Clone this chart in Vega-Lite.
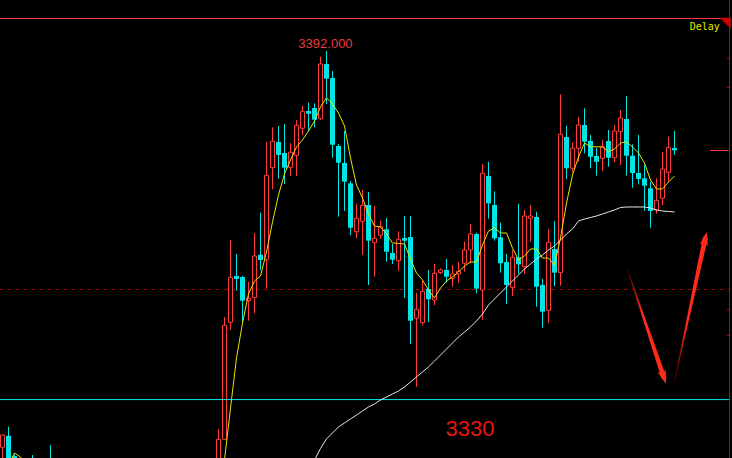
{
  "$schema": "https://vega.github.io/schema/vega-lite/v6.json",
  "width": 732,
  "height": 458,
  "autosize": "none",
  "padding": 0,
  "background": "#000000",
  "config": {"view": {"stroke": null}, "scale": {"continuousPadding": 0}},
  "datasets": {
    "candles": [
      {"k":0,"o":3321.40,"h":3323.70,"l":3317.3,"c":3323.59,"d":"up"},
      {"k":1,"o":3323.47,"h":3325.07,"l":3315.6,"c":3317.35,"d":"down"},
      {"k":2,"o":3319.85,"h":3320.1,"l":3317.0,"c":3319.3,"d":"down"},
      {"k":5,"o":3318.5,"h":3320.03,"l":3314,"c":3316,"d":"down"},
      {"k":8,"o":3318.5,"h":3321.81,"l":3314,"c":3316,"d":"down"},
      {"k":36,"o":3316.0,"h":3324.66,"l":3314.0,"c":3322.82,"d":"up"},
      {"k":37,"o":3322.82,"h":3344.56,"l":3322.7,"c":3343.13,"d":"up"},
      {"k":38,"o":3343.67,"h":3358.33,"l":3342.30,"c":3351.69,"d":"up"},
      {"k":39,"o":3351.92,"h":3355.84,"l":3349.30,"c":3351.38,"d":"down"},
      {"k":40,"o":3351.74,"h":3351.92,"l":3343.72,"c":3347.52,"d":"down"},
      {"k":41,"o":3347.52,"h":3350.85,"l":3343.95,"c":3347.95,"d":"up"},
      {"k":42,"o":3348.05,"h":3359.53,"l":3345.27,"c":3355.48,"d":"up"},
      {"k":43,"o":3355.71,"h":3363.20,"l":3352.99,"c":3354.77,"d":"down"},
      {"k":44,"o":3354.82,"h":3375.79,"l":3349.66,"c":3369.86,"d":"up"},
      {"k":45,"o":3371.21,"h":3378.41,"l":3367.36,"c":3375.92,"d":"up"},
      {"k":46,"o":3375.79,"h":3378.64,"l":3369.25,"c":3373.48,"d":"down"},
      {"k":47,"o":3373.83,"h":3379.00,"l":3368.31,"c":3371.21,"d":"down"},
      {"k":48,"o":3371.28,"h":3375.56,"l":3369.73,"c":3373.96,"d":"up"},
      {"k":49,"o":3373.42,"h":3379.71,"l":3369.73,"c":3378.77,"d":"up"},
      {"k":50,"o":3378.23,"h":3382.21,"l":3376.99,"c":3381.26,"d":"up"},
      {"k":51,"o":3381.31,"h":3382.79,"l":3377.80,"c":3380.83,"d":"down"},
      {"k":52,"o":3381.85,"h":3382.69,"l":3378.41,"c":3379.76,"d":"down"},
      {"k":53,"o":3379.94,"h":3390.99,"l":3379.71,"c":3389.69,"d":"up"},
      {"k":54,"o":3389.69,"h":3392.00,"l":3382.56,"c":3387.07,"d":"down"},
      {"k":55,"o":3387.19,"h":3388.44,"l":3372.99,"c":3375.31,"d":"down"},
      {"k":56,"o":3375.08,"h":3375.43,"l":3362.48,"c":3372.10,"d":"down"},
      {"k":57,"o":3372.05,"h":3377.75,"l":3363.50,"c":3368.72,"d":"down"},
      {"k":58,"o":3368.43,"h":3368.84,"l":3359.17,"c":3360.52,"d":"down"},
      {"k":59,"o":3359.81,"h":3364.75,"l":3358.63,"c":3362.20,"d":"up"},
      {"k":60,"o":3361.66,"h":3367.24,"l":3355.71,"c":3364.51,"d":"up"},
      {"k":61,"o":3364.57,"h":3366.88,"l":3350.31,"c":3358.21,"d":"down"},
      {"k":62,"o":3357.85,"h":3364.39,"l":3351.79,"c":3358.63,"d":"up"},
      {"k":63,"o":3359.17,"h":3361.77,"l":3358.56,"c":3360.70,"d":"up"},
      {"k":64,"o":3360.24,"h":3362.25,"l":3354.47,"c":3356.25,"d":"down"},
      {"k":65,"o":3356.02,"h":3357.62,"l":3354.06,"c":3354.82,"d":"down"},
      {"k":66,"o":3354.64,"h":3359.88,"l":3352.86,"c":3358.46,"d":"up"},
      {"k":67,"o":3358.69,"h":3362.61,"l":3348.00,"c":3358.21,"d":"down"},
      {"k":68,"o":3358.87,"h":3362.61,"l":3339.80,"c":3343.95,"d":"down"},
      {"k":69,"o":3344.38,"h":3348.94,"l":3332.20,"c":3345.99,"d":"up"},
      {"k":70,"o":3343.60,"h":3351.08,"l":3343.13,"c":3349.19,"d":"up"},
      {"k":71,"o":3349.60,"h":3352.99,"l":3343.72,"c":3347.77,"d":"down"},
      {"k":72,"o":3347.64,"h":3354.06,"l":3346.70,"c":3352.40,"d":"up"},
      {"k":73,"o":3352.51,"h":3353.29,"l":3352.27,"c":3352.99,"d":"up"},
      {"k":74,"o":3352.99,"h":3354.95,"l":3350.72,"c":3351.79,"d":"down"},
      {"k":75,"o":3351.51,"h":3353.88,"l":3350.01,"c":3352.27,"d":"up"},
      {"k":76,"o":3352.27,"h":3354.41,"l":3350.72,"c":3352.75,"d":"up"},
      {"k":77,"o":3354.18,"h":3358.03,"l":3352.68,"c":3356.55,"d":"up"},
      {"k":78,"o":3356.55,"h":3361.18,"l":3354.18,"c":3359.40,"d":"up"},
      {"k":79,"o":3359.40,"h":3359.63,"l":3348.84,"c":3349.66,"d":"down"},
      {"k":80,"o":3349.42,"h":3371.87,"l":3344.08,"c":3370.21,"d":"up"},
      {"k":81,"o":3369.73,"h":3372.28,"l":3362.13,"c":3364.87,"d":"down"},
      {"k":82,"o":3364.57,"h":3367.01,"l":3358.21,"c":3358.63,"d":"down"},
      {"k":83,"o":3358.81,"h":3361.41,"l":3352.51,"c":3354.18,"d":"down"},
      {"k":84,"o":3354.41,"h":3355.84,"l":3346.93,"c":3350.31,"d":"down"},
      {"k":85,"o":3349.90,"h":3356.55,"l":3348.35,"c":3355.25,"d":"up"},
      {"k":86,"o":3355.25,"h":3364.75,"l":3352.27,"c":3354.00,"d":"down"},
      {"k":87,"o":3353.57,"h":3363.62,"l":3352.27,"c":3362.61,"d":"up"},
      {"k":88,"o":3362.20,"h":3364.57,"l":3358.03,"c":3362.61,"d":"up"},
      {"k":89,"o":3362.43,"h":3363.37,"l":3346.45,"c":3350.01,"d":"down"},
      {"k":90,"o":3350.31,"h":3351.38,"l":3342.71,"c":3345.56,"d":"down"},
      {"k":91,"o":3345.81,"h":3360.29,"l":3343.54,"c":3357.92,"d":"up"},
      {"k":92,"o":3356.73,"h":3361.72,"l":3350.08,"c":3352.51,"d":"down"},
      {"k":93,"o":3352.51,"h":3384.29,"l":3350.19,"c":3377.16,"d":"up"},
      {"k":94,"o":3376.68,"h":3378.70,"l":3369.20,"c":3371.11,"d":"down"},
      {"k":95,"o":3371.11,"h":3375.74,"l":3370.39,"c":3374.67,"d":"up"},
      {"k":96,"o":3374.67,"h":3380.25,"l":3372.28,"c":3378.82,"d":"up"},
      {"k":97,"o":3378.82,"h":3381.80,"l":3373.78,"c":3375.84,"d":"down"},
      {"k":98,"o":3375.97,"h":3377.04,"l":3371.11,"c":3373.17,"d":"down"},
      {"k":99,"o":3373.30,"h":3374.78,"l":3369.79,"c":3372.28,"d":"down"},
      {"k":100,"o":3372.89,"h":3376.15,"l":3370.62,"c":3374.95,"d":"up"},
      {"k":101,"o":3375.97,"h":3377.93,"l":3371.39,"c":3372.99,"d":"down"},
      {"k":102,"o":3372.99,"h":3378.82,"l":3372.17,"c":3377.75,"d":"up"},
      {"k":103,"o":3377.63,"h":3381.49,"l":3371.69,"c":3380.07,"d":"up"},
      {"k":104,"o":3379.89,"h":3383.99,"l":3369.79,"c":3373.35,"d":"down"},
      {"k":105,"o":3373.35,"h":3375.38,"l":3367.65,"c":3370.27,"d":"down"},
      {"k":106,"o":3370.27,"h":3377.04,"l":3368.25,"c":3369.20,"d":"down"},
      {"k":107,"o":3369.32,"h":3371.69,"l":3363.50,"c":3368.01,"d":"down"},
      {"k":108,"o":3367.54,"h":3368.72,"l":3360.52,"c":3363.50,"d":"down"},
      {"k":109,"o":3363.68,"h":3369.32,"l":3363.02,"c":3365.40,"d":"up"},
      {"k":110,"o":3365.76,"h":3374.06,"l":3364.57,"c":3370.98,"d":"up"},
      {"k":111,"o":3370.39,"h":3376.74,"l":3368.72,"c":3374.78,"d":"up"},
      {"k":112,"o":3374.72,"h":3377.75,"l":3373.48,"c":3374.31,"d":"down"}
    ],
    "fast": [
      {"k":1,"v":3318.25},{"k":2,"v":3320.38},{"k":3,"v":3319.67},{"k":4,"v":3318.07},
      {"k":36,"v":3312.01},{"k":37,"v":3319.14},{"k":38,"v":3328.40},{"k":39,"v":3337.31},
      {"k":40,"v":3343.54},{"k":41,"v":3348.71},{"k":42,"v":3351.03},{"k":43,"v":3351.92},
      {"k":44,"v":3356.19},{"k":45,"v":3361.54},{"k":46,"v":3366.35},{"k":47,"v":3370.09},
      {"k":48,"v":3372.58},{"k":49,"v":3374.90},{"k":50,"v":3376.15},{"k":51,"v":3377.75},
      {"k":52,"v":3379.53},{"k":53,"v":3382.03},{"k":54,"v":3383.68},{"k":55,"v":3382.56},
      {"k":56,"v":3380.96},{"k":57,"v":3378.64},{"k":58,"v":3372.94},{"k":59,"v":3368.13},
      {"k":60,"v":3365.81},{"k":61,"v":3362.96},{"k":62,"v":3360.83},{"k":63,"v":3360.65},
      {"k":64,"v":3359.40},{"k":65,"v":3357.80},{"k":66,"v":3357.71},{"k":67,"v":3357.62},
      {"k":68,"v":3354.95},{"k":69,"v":3352.45},{"k":70,"v":3351.21},{"k":71,"v":3349.42},
      {"k":72,"v":3348.00},{"k":73,"v":3349.78},{"k":74,"v":3351.03},{"k":75,"v":3351.74},
      {"k":76,"v":3352.63},{"k":77,"v":3353.70},{"k":78,"v":3354.41},{"k":79,"v":3354.41},
      {"k":80,"v":3357.44},{"k":81,"v":3359.94},{"k":82,"v":3360.47},{"k":83,"v":3359.58},
      {"k":84,"v":3359.58},{"k":85,"v":3356.91},{"k":86,"v":3354.77},{"k":87,"v":3355.48},
      {"k":88,"v":3356.73},{"k":89,"v":3356.73},{"k":90,"v":3355.12},{"k":91,"v":3355.12},
      {"k":92,"v":3353.88},{"k":93,"v":3358.69},{"k":94,"v":3364.92},{"k":95,"v":3369.91},
      {"k":96,"v":3373.12},{"k":97,"v":3375.61},{"k":98,"v":3374.95},{"k":99,"v":3374.95},
      {"k":100,"v":3374.90},{"k":101,"v":3374.06},{"k":102,"v":3374.54},{"k":103,"v":3375.61},
      {"k":104,"v":3375.84},{"k":105,"v":3374.90},{"k":106,"v":3373.83},{"k":107,"v":3372.05},
      {"k":108,"v":3369.02},{"k":109,"v":3367.42},{"k":110,"v":3367.42},{"k":111,"v":3368.66},
      {"k":112,"v":3369.73}
    ],
    "slow": [
      {"k":52,"v":3319.14},{"k":53,"v":3321.19},{"k":54,"v":3322.88},{"k":55,"v":3323.95},
      {"k":56,"v":3325.02},{"k":57,"v":3325.73},{"k":58,"v":3326.44},{"k":59,"v":3327.15},
      {"k":60,"v":3327.87},{"k":61,"v":3328.58},{"k":62,"v":3329.11},{"k":63,"v":3329.83},
      {"k":64,"v":3330.36},{"k":65,"v":3330.89},{"k":66,"v":3331.43},{"k":67,"v":3332.14},
      {"k":68,"v":3333.03},{"k":69,"v":3333.92},{"k":70,"v":3334.81},{"k":71,"v":3335.71},
      {"k":72,"v":3336.77},{"k":73,"v":3337.84},{"k":74,"v":3338.91},{"k":75,"v":3339.98},
      {"k":76,"v":3341.05},{"k":77,"v":3341.94},{"k":78,"v":3342.83},{"k":79,"v":3343.90},
      {"k":80,"v":3345.15},{"k":81,"v":3346.75},{"k":82,"v":3347.82},{"k":83,"v":3348.89},
      {"k":84,"v":3349.96},{"k":85,"v":3351.03},{"k":86,"v":3352.10},{"k":87,"v":3353.16},
      {"k":88,"v":3354.06},{"k":89,"v":3354.95},{"k":90,"v":3355.66},{"k":91,"v":3356.55},
      {"k":92,"v":3357.26},{"k":93,"v":3358.33},{"k":94,"v":3359.40},{"k":95,"v":3360.29},
      {"k":96,"v":3361.72},{"k":97,"v":3362.07},{"k":98,"v":3362.34},{"k":99,"v":3362.61},
      {"k":100,"v":3362.96},{"k":101,"v":3363.32},{"k":102,"v":3363.68},{"k":103,"v":3364.12},
      {"k":104,"v":3364.21},{"k":105,"v":3364.21},{"k":106,"v":3364.21},{"k":107,"v":3364.21},
      {"k":108,"v":3364.03},{"k":109,"v":3363.68},{"k":110,"v":3363.50},{"k":111,"v":3363.41},
      {"k":112,"v":3363.32}
    ],
    "levels": [
      {"name":"top","k":-0.5,"k2":121.167,"v":3397.79},
      {"name":"support","k":-0.5,"k2":121.167,"v":3329.9},
      {"name":"mid","k":-0.5,"k2":121.167,"v":3349.51},
      {"name":"last","k":117.92,"k2":121.0,"v":3374.28}
    ],
    "ticks": [
      {"k":120.75,"k2":121.167,"v":3390.7},
      {"k":120.75,"k2":121.167,"v":3385.5},
      {"k":120.75,"k2":121.167,"v":3345.9},
      {"k":120.75,"k2":121.167,"v":3341.3}
    ],
    "border": [{"k":121.167,"v":3319.49,"v2":3401.09}],
    "corner": [{"k":120.46,"v":3396.95}],
    "labels": [
      {"name":"high","k":53.83,"v":3393.25,"text":"3392.000"},
      {"name":"target","k":77.9,"v":3324.66,"text":"3330"},
      {"name":"status","k":117.03,"v":3396.24,"text":"Delay"}
    ],
    "arrow1": [{"k":104.08,"v":3353.34,"t":0},{"k":110.22,"v":3333.85,"t":1}],
    "arrow2": [{"k":111.97,"v":3332.98,"t":0},{"k":117.12,"v":3358.60,"t":1}],
    "heads": [{"name":"down","k":110.22,"v":3333.85},{"name":"up","k":117.12,"v":3358.60}]
  },
  "encoding": {
    "x": {"field":"k","type":"quantitative","scale":{"domain":[-0.4167,121.583],"nice":false,"zero":false,"padding":0},"axis":null}
  },
  "layer": [
    {
      "data": {"name":"levels"},
      "transform": [{"filter":"datum.name === 'mid'"}],
      "mark": {"type":"rule","color":"#a00000","strokeWidth":1,"strokeDash":[4,4],"clip":true},
      "encoding": {
        "x2": {"field":"k2"},
        "y": {"field":"v","type":"quantitative","scale":{"domain":[3319.49,3401.09],"nice":false,"zero":false,"padding":0},"axis":null}
      }
    },
    {
      "data": {"name":"candles"},
      "mark": {"type":"rule","strokeWidth":1,"clip":true},
      "encoding": {
        "y": {"field":"l","type":"quantitative","scale":{"domain":[3319.49,3401.09],"nice":false,"zero":false,"padding":0},"axis":null},
        "y2": {"field":"h"},
        "color": {"field":"d","type":"nominal","scale":{"domain":["up","down"],"range":["#ff3b3b","#00e6e6"]},"legend":null}
      }
    },
    {
      "data": {"name":"candles"},
      "transform": [{"filter":"datum.d === 'up'"}],
      "mark": {"type":"bar","width":4,"fill":"#000000","stroke":"#ff3b3b","strokeWidth":1,"clip":true},
      "encoding": {
        "y": {"field":"o","type":"quantitative","scale":{"domain":[3319.49,3401.09],"nice":false,"zero":false,"padding":0},"axis":null},
        "y2": {"field":"c"}
      }
    },
    {
      "data": {"name":"candles"},
      "transform": [{"filter":"datum.d === 'down'"}],
      "mark": {"type":"bar","width":5,"fill":"#00e6e6","strokeWidth":0,"clip":true},
      "encoding": {
        "y": {"field":"o","type":"quantitative","scale":{"domain":[3319.49,3401.09],"nice":false,"zero":false,"padding":0},"axis":null},
        "y2": {"field":"c"}
      }
    },
    {
      "data": {"name":"levels"},
      "transform": [{"filter":"datum.name !== 'mid'"}],
      "mark": {"type":"rule","strokeWidth":1,"clip":true},
      "encoding": {
        "x2": {"field":"k2"},
        "y": {"field":"v","type":"quantitative","scale":{"domain":[3319.49,3401.09],"nice":false,"zero":false,"padding":0},"axis":null},
        "color": {"field":"name","type":"nominal","scale":{"domain":["top","support","last"],"range":["#cc0000","#d4d4d4","#dcdcdc"]},"legend":null}
      }
    },
    {
      "data": {"name":"slow"},
      "mark": {"type":"line","color":"#e8e8e8","strokeWidth":1,"clip":true},
      "encoding": {
        "y": {"field":"v","type":"quantitative","scale":{"domain":[3319.49,3401.09],"nice":false,"zero":false,"padding":0},"axis":null}
      }
    },
    {
      "data": {"name":"fast"},
      "mark": {"type":"line","color":"#e6e600","strokeWidth":1,"clip":true},
      "encoding": {
        "y": {"field":"v","type":"quantitative","scale":{"domain":[3319.49,3401.09],"nice":false,"zero":false,"padding":0},"axis":null}
      }
    },
    {
      "data": {"name":"border"},
      "mark": {"type":"rule","color":"#d00000","strokeWidth":1},
      "encoding": {
        "y": {"field":"v","type":"quantitative","scale":{"domain":[3319.49,3401.09],"nice":false,"zero":false,"padding":0},"axis":null},
        "y2": {"field":"v2"}
      }
    },
    {
      "data": {"name":"ticks"},
      "mark": {"type":"rule","color":"#d00000","strokeWidth":1},
      "encoding": {
        "x2": {"field":"k2"},
        "y": {"field":"v","type":"quantitative","scale":{"domain":[3319.49,3401.09],"nice":false,"zero":false,"padding":0},"axis":null}
      }
    },
    {
      "data": {"name":"corner"},
      "mark": {"type":"point","shape":"M -1 -1 L 1 -1 L 1 1 Z","filled":true,"color":"#d00000","opacity":1,"size":120},
      "encoding": {
        "y": {"field":"v","type":"quantitative","scale":{"domain":[3319.49,3401.09],"nice":false,"zero":false,"padding":0},"axis":null}
      }
    },
    {
      "data": {"name":"labels"},
      "transform": [{"filter":"datum.name === 'high'"}],
      "mark": {"type":"text","font":"Liberation Sans","fontSize":13,"color":"#e63c3c","align":"center","baseline":"middle"},
      "encoding": {
        "y": {"field":"v","type":"quantitative","scale":{"domain":[3319.49,3401.09],"nice":false,"zero":false,"padding":0},"axis":null},
        "text": {"field":"text"}
      }
    },
    {
      "data": {"name":"labels"},
      "transform": [{"filter":"datum.name === 'target'"}],
      "mark": {"type":"text","font":"Liberation Sans","fontSize":22,"color":"#e8140e","align":"center","baseline":"middle"},
      "encoding": {
        "y": {"field":"v","type":"quantitative","scale":{"domain":[3319.49,3401.09],"nice":false,"zero":false,"padding":0},"axis":null},
        "text": {"field":"text"}
      }
    },
    {
      "data": {"name":"labels"},
      "transform": [{"filter":"datum.name === 'status'"}],
      "mark": {"type":"text","font":"DejaVu Sans Mono","fontSize":10,"color":"#e8e800","align":"center","baseline":"middle"},
      "encoding": {
        "y": {"field":"v","type":"quantitative","scale":{"domain":[3319.49,3401.09],"nice":false,"zero":false,"padding":0},"axis":null},
        "text": {"field":"text"}
      }
    },
    {
      "data": {"name":"arrow1"},
      "mark": {"type":"trail","clip":true,"color":{"gradient":"linear","x1":0,"y1":0,"x2":1,"y2":1,"stops":[{"offset":0,"color":"#5a0000"},{"offset":0.4,"color":"#ff2a1a"},{"offset":1,"color":"#ff2a1a"}]}},
      "encoding": {
        "y": {"field":"v","type":"quantitative","scale":{"domain":[3319.49,3401.09],"nice":false,"zero":false,"padding":0},"axis":null},
        "size": {"field":"t","type":"quantitative","scale":{"domain":[0,1],"range":[0.5,5]},"legend":null}
      }
    },
    {
      "data": {"name":"arrow2"},
      "mark": {"type":"trail","clip":true,"color":{"gradient":"linear","x1":0,"y1":1,"x2":1,"y2":0,"stops":[{"offset":0,"color":"#5a0000"},{"offset":0.4,"color":"#ff2a1a"},{"offset":1,"color":"#ff2a1a"}]}},
      "encoding": {
        "y": {"field":"v","type":"quantitative","scale":{"domain":[3319.49,3401.09],"nice":false,"zero":false,"padding":0},"axis":null},
        "size": {"field":"t","type":"quantitative","scale":{"domain":[0,1],"range":[0.5,5]},"legend":null}
      }
    },
    {
      "data": {"name":"heads"},
      "transform": [{"filter":"datum.name === 'down'"}],
      "mark": {"type":"point","shape":"M 0 -1 L 0.6 1 L 0 0.6 L -0.6 1 Z","filled":true,"color":"#ff2a1a","opacity":1,"size":196,"angle":161.4,"clip":true},
      "encoding": {
        "y": {"field":"v","type":"quantitative","scale":{"domain":[3319.49,3401.09],"nice":false,"zero":false,"padding":0},"axis":null}
      }
    },
    {
      "data": {"name":"heads"},
      "transform": [{"filter":"datum.name === 'up'"}],
      "mark": {"type":"point","shape":"M 0 -1 L 0.6 1 L 0 0.6 L -0.6 1 Z","filled":true,"color":"#ff2a1a","opacity":1,"size":196,"angle":12,"clip":true},
      "encoding": {
        "y": {"field":"v","type":"quantitative","scale":{"domain":[3319.49,3401.09],"nice":false,"zero":false,"padding":0},"axis":null}
      }
    }
  ]
}
